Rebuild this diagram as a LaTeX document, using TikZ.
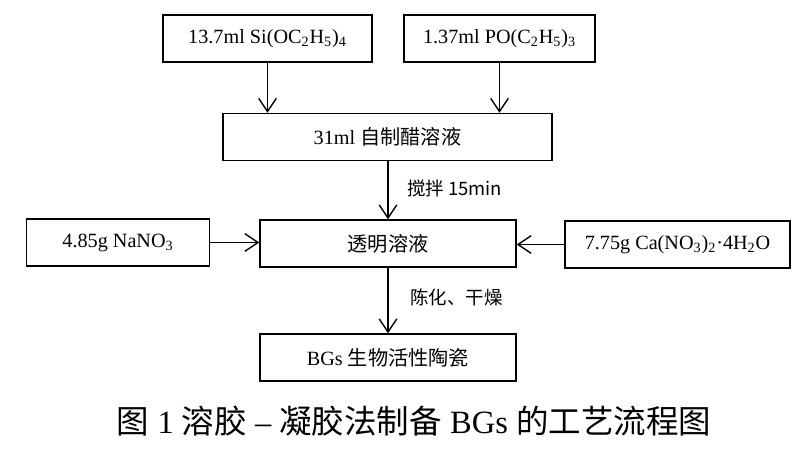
\documentclass[tikz,border=0pt]{standalone}
\usepackage{fontspec}
\setmainfont{Liberation Serif}
\newfontfamily\cjk{Noto Sans CJK SC}
\usetikzlibrary{arrows.meta}

\begin{document}
\begin{tikzpicture}[x=0.02cm,y=-0.02cm,
    box/.style={draw,line width=0.8pt,minimum height=0.94cm,inner sep=0pt,font=\fontsize{11.5}{13}\selectfont},
    flow/.style={-{Straight Barb[length=7.5pt,width=10pt]},line width=0.8pt},
    note/.style={anchor=west,font=\fontsize{10.5}{12}\cjk}]
          \useasboundingbox (0,0) rectangle (800,449);
          % raw materials
          \node[box,minimum width=4.18cm] (teos) at (267.5,38.5){13.7ml Si(OC\textsubscript{2}H\textsubscript{5})\textsubscript{4}};
          \node[box,minimum width=3.82cm] (tep) at (499.5,38.5){1.37ml PO(C\textsubscript{2}H\textsubscript{5})\textsubscript{3}};
          \node[box,minimum width=6.58cm] (acid) at (387.5,137){31ml {\cjk 自制醋溶液}};
          \node[box,minimum width=3.66cm] (nano) at (118,242.5){4.85g NaNO\textsubscript{3}};
          \node[box,minimum width=5.12cm] (sol) at (388,243.5){\cjk 透明溶液};
          \node[box,minimum width=4.5cm] (cano) at (677.5,244.5){7.75g Ca(NO\textsubscript{3})\textsubscript{2}·4H\textsubscript{2}O};
          \node[box,minimum width=5.12cm] (bgs) at (388,357.5){BGs {\cjk 生物活性陶瓷}};
          
          % process steps
          \node[note] (stir) at (401,188){搅拌 15min};
          \node[note] (age) at (404,297){陈化、干燥};
          
          \draw[flow] (teos.south) -- (teos.south |- acid.north);
          \draw[flow] (tep.south) -- (tep.south |- acid.north);
          \draw[flow] (acid.south -| sol.north) -- (sol.north);
          \draw[flow] (nano.east) -- (sol.west |- nano.east);
          \draw[flow] (cano.west) -- (sol.east |- cano.west);
          \draw[flow] (sol.south) -- (bgs.north);
          
          % caption
          \node[font=\fontsize{18.5}{22}\selectfont] (cap) at (414,421){{\cjk 图} 1 {\cjk 溶胶} – {\cjk 凝胶法制备} BGs {\cjk 的工艺流程图}};
\end{tikzpicture}
\end{document}
